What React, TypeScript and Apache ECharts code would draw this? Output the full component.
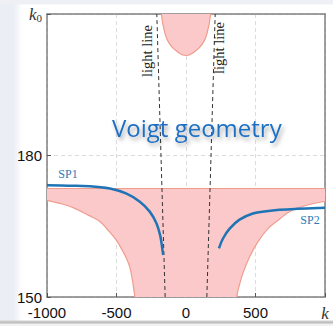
import React, { useEffect, useRef } from "react";
import * as echarts from "echarts";

// axis ticks and labels
const xTicks = [-1000, -500, 0, 500, 1000];
const xTickLabels = ["-1000", "-500", "0", "500", "k"];
const yTicks = [150, 180, 210];
const yTickLabels = ["150", "180", "k0"];

// upper edge of the shaded band
const bandTop = 173;
const bandTopK = [-1000, 1000];

// lower edge of the shaded band (left and right branches)
const lowerLeftK = [-1000, -900, -800, -700, -620, -550, -500, -460, -430, -405, -385, -375, -368];
const lowerLeftK0 = [170.5, 169.8, 168.8, 167.3, 166.0, 163.8, 162.0, 160.0, 158.3, 156.4, 153.5, 151.5, 150];
const lowerRightK = [365, 375, 409, 457, 517, 590, 673, 750, 850, 1000];
const lowerRightK0 = [150, 151.5, 155, 158.5, 161.7, 164.5, 166.5, 168.2, 169.3, 170.3];

// top lobe
const lobeK = [-177, -153, -117, -57, 0, 57, 117, 153, 177];
const lobeK0 = [210, 206.1, 203.6, 201.9, 201.2, 201.9, 203.6, 206.1, 210];

// light lines
const lightLeftK = [-150, -210];
const lightRightK = [150, 210];
const lightK0 = [150, 210];

// surface polaritons
const sp1K = [-1000, -850, -691, -547, -428, -332, -261, -212, -184, -169, -164];
const sp1K0 = [173.7, 173.6, 173.5, 173.0, 171.9, 170.2, 168.1, 165.6, 162.8, 159.9, 158.9];
const sp2K = [237, 266, 314, 385, 481, 577, 673, 800, 1000];
const sp2K0 = [160.3, 162.4, 164.5, 166.4, 167.7, 168.2, 168.5, 168.7, 168.9];

const PINK = "#fbc9c9";
const SALMON = "#ef9c8d";
const BLUE = "#1f74b6";
const FRAME = "#808080";

const zip = (a: number[], b: number[]) => a.map((v, i) => [v, b[i]]);

export default function App() {
  const ref = useRef<HTMLDivElement>(null);
  useEffect(() => {
    document.body.style.margin = "0";
    const chart = echarts.init(ref.current!, null, { renderer: "svg" });
    const bandK = [...lowerLeftK, ...lowerRightK];
    const bandBase = [...lowerLeftK0, ...lowerRightK0];
    const serif = "'Liberation Serif', 'DejaVu Serif', serif";
    const sans = "'Liberation Sans', Arial, sans-serif";
    const frameAxis = {
      type: "value",
      axisLine: { show: true, onZero: false, lineStyle: { color: FRAME, width: 1.5 } },
      axisTick: { show: false },
      axisLabel: { show: false },
      splitLine: { show: false },
    };
    chart.setOption({
      animation: false,
      backgroundColor: "transparent",
      grid: {
        left: 47,
        right: 8,
        top: 14,
        bottom: 29,
        show: true,
        backgroundColor: "#ffffff",
        borderWidth: 0,
      },
      xAxis: [
        {
          type: "value",
          min: -1000,
          max: 1000,
          interval: 500,
          axisLine: { show: true, onZero: false, lineStyle: { color: FRAME, width: 1.5 } },
          axisTick: { show: true, inside: true, length: 4, lineStyle: { color: "#555" } },
          splitLine: { show: true, lineStyle: { color: "#dcdcdc", type: [4, 3] } },
          axisLabel: {
            color: "#111",
            fontSize: 15,
            fontFamily: sans,
            margin: 8,
            formatter: (v: number) => {
              const i = xTicks.indexOf(v);
              const s = i >= 0 ? xTickLabels[i] : "";
              return s === "k" ? "{it|k}" : s;
            },
            rich: {
              it: { fontStyle: "italic", fontFamily: serif, fontSize: 17, color: "#333" },
            },
          },
        },
        { ...frameAxis, position: "top", min: -1000, max: 1000 },
      ],
      yAxis: [
        {
          type: "value",
          min: 150,
          max: 210,
          interval: 30,
          axisLine: { show: true, onZero: false, lineStyle: { color: FRAME, width: 1.5 } },
          axisTick: { show: true, inside: true, length: 4, lineStyle: { color: "#555" } },
          splitLine: { show: true, lineStyle: { color: "#dcdcdc", type: [4, 3] } },
          axisLabel: {
            color: "#111",
            fontSize: 15,
            fontFamily: sans,
            margin: 5,
            formatter: (v: number) => {
              const i = yTicks.indexOf(v);
              const s = i >= 0 ? yTickLabels[i] : "";
              return s === "k0" ? "{it|k}{sub|0}" : s;
            },
            rich: {
              it: { fontStyle: "italic", fontFamily: serif, fontSize: 17, color: "#333" },
              sub: { fontFamily: serif, fontSize: 11, color: "#333", padding: [8, 0, 0, 0] },
            },
          },
        },
        { ...frameAxis, position: "right", min: 150, max: 210 },
      ],
      series: [
        {
          type: "line",
          name: "band",
          data: zip(bandK, bandBase),
          smooth: 0.4,
          symbol: "none",
          lineStyle: { opacity: 0 },
          areaStyle: { color: PINK, opacity: 1, origin: bandTop },
          silent: true,
        },
        {
          type: "line",
          data: zip(bandTopK, bandTopK.map(() => bandTop)),
          symbol: "none",
          lineStyle: { color: SALMON, width: 1.2 },
        },
        {
          type: "line",
          data: zip(lowerLeftK, lowerLeftK0),
          smooth: 0.4,
          symbol: "none",
          lineStyle: { color: SALMON, width: 1.2 },
        },
        {
          type: "line",
          data: zip(lowerRightK, lowerRightK0),
          smooth: 0.4,
          symbol: "none",
          lineStyle: { color: SALMON, width: 1.2 },
        },
        {
          type: "line",
          data: zip(lobeK, lobeK0),
          smooth: 0.5,
          symbol: "none",
          lineStyle: { color: SALMON, width: 1.2 },
          areaStyle: { color: PINK, opacity: 1, origin: "end" },
        },
        {
          type: "line",
          data: zip(lightLeftK, lightK0),
          symbol: "none",
          lineStyle: { color: "#333", width: 1, type: [4, 3] },
        },
        {
          type: "line",
          data: zip(lightRightK, lightK0),
          symbol: "none",
          lineStyle: { color: "#333", width: 1, type: [4, 3] },
        },
        {
          type: "line",
          data: zip(sp1K, sp1K0),
          smooth: 0.4,
          symbol: "none",
          lineStyle: { color: BLUE, width: 2.5 },
        },
        {
          type: "line",
          data: zip(sp2K, sp2K0),
          smooth: 0.4,
          symbol: "none",
          lineStyle: { color: BLUE, width: 2.5 },
        },
      ],
      graphic: [
        {
          type: "text",
          x: 112,
          y: 139,
          z: 100,
          style: {
            text: "Voigt geometry",
            fontSize: 24,
            fontFamily: "'Open Sans', sans-serif",
            fill: "#1f6fc4",
            verticalAlign: "bottom",
            textShadowColor: "rgba(0,0,0,0.35)",
            textShadowBlur: 4,
            textShadowOffsetX: 2,
            textShadowOffsetY: 3,
          },
        },
        {
          type: "text",
          x: 147,
          y: 51,
          rotation: Math.PI / 2,
          z: 100,
          style: { text: "light line", fontSize: 14.5, fontFamily: serif, fill: "#222", align: "center", verticalAlign: "middle" },
        },
        {
          type: "text",
          x: 219,
          y: 48,
          rotation: Math.PI / 2,
          z: 100,
          style: { text: "light line", fontSize: 14.5, fontFamily: serif, fill: "#222", align: "center", verticalAlign: "middle" },
        },
        {
          type: "text",
          x: 68,
          y: 174,
          z: 100,
          style: { text: "SP1", fontSize: 12, fontFamily: serif, fill: "#2b7bb9", align: "center", verticalAlign: "middle" },
        },
        {
          type: "text",
          x: 310,
          y: 219.5,
          z: 100,
          style: { text: "SP2", fontSize: 12, fontFamily: serif, fill: "#2b7bb9", align: "center", verticalAlign: "middle" },
        },
      ],
    });
    return () => chart.dispose();
  }, []);
  return (
    <div
      style={{
        position: "absolute",
        left: 0,
        top: 0,
        width: 333,
        height: 326,
        background:
          "linear-gradient(0deg, #f2f2f2 0px, #f2f2f2 2px, #b9b9b9 3px, #cfcfcf 5px, rgba(255,255,255,0) 6px), linear-gradient(180deg, #eef0f5 0px, #eef0f5 4px, rgba(255,255,255,0) 5px), linear-gradient(90deg, #eceef5 0px, #eceef5 14px, #ffffff 22px)",
      }}
    >
      <div ref={ref} style={{ width: 333, height: 326 }} />
    </div>
  );
}
